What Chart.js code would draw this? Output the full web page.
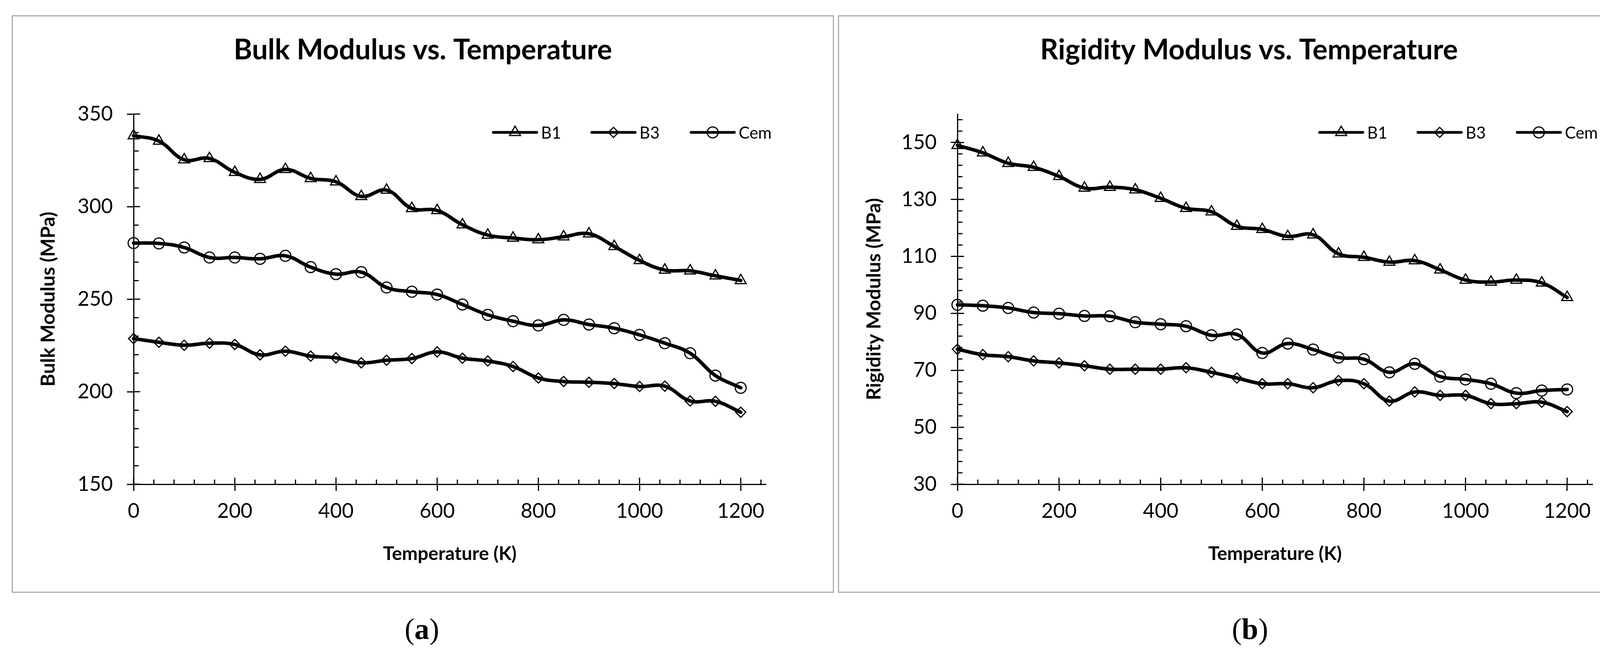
<!DOCTYPE html>
<html>
<head>
<meta charset="utf-8">
<script src="https://cdn.jsdelivr.net/npm/chart.js@4.4.1/dist/chart.umd.min.js"></script>
<style>
html,body{margin:0;padding:0;background:#fff;}
body{width:4273px;height:1667px;position:relative;overflow:hidden;}
.panel{position:absolute;top:39px;width:2105px;height:1479px;border:3px solid #b0acac;box-sizing:border-box;background:#fff;}
.panel canvas{position:absolute;left:0;top:0;}
.cap{position:absolute;top:1565px;font-family:"Liberation Serif","Times New Roman",serif;font-size:76px;line-height:90px;transform:translateX(-50%);color:#000;white-space:nowrap;}
.cap b{font-weight:bold;}
</style>
</head>
<body>
<div class="panel" style="left:30px"><canvas id="c1" width="2099" height="1473"></canvas></div>
<div class="panel" style="left:2145px"><canvas id="c2" width="2099" height="1473"></canvas></div>
<div class="cap" style="left:1080px">(<b>a</b>)</div>
<div class="cap" style="left:3200px">(<b>b</b>)</div>
<script>
// ---------------- data ----------------
const temperatures = [0,50,100,150,200,250,300,350,400,450,500,550,600,650,700,750,800,850,900,950,1000,1050,1100,1150,1200];
const seriesNames = ['B1','B3','Cem'];

const bulkB1  = [338.3,335.4,325.3,326.0,318.5,314.7,320.1,315.2,313.4,305.5,308.9,299.0,297.9,290.2,284.6,283.0,282.1,283.7,285.3,278.5,270.9,265.7,265.3,262.6,260.1];
const bulkB3  = [228.7,226.7,225.1,226.2,225.5,219.9,221.9,219.2,218.3,215.6,217.0,217.9,221.5,218.1,216.6,213.6,207.4,205.5,205.1,204.4,202.8,203.0,195.0,194.8,188.9];
const bulkCem = [280.3,280.1,277.9,272.5,272.5,271.8,273.4,267.3,263.5,264.6,256.3,254.0,252.5,247.1,241.5,238.1,235.8,238.8,236.3,234.3,230.7,226.2,220.8,208.7,202.1];

const rigidB1  = [149.0,146.4,142.7,141.3,138.1,134.0,134.3,133.4,130.4,126.9,125.7,120.6,119.5,117.0,117.6,110.9,109.7,108.0,108.5,105.3,101.7,101.0,101.7,100.7,95.6];
const rigidB3  = [77.4,75.5,74.8,73.3,72.6,71.6,70.4,70.4,70.4,70.9,69.3,67.3,65.3,65.3,63.9,66.4,65.3,59.2,62.4,61.2,61.2,58.3,58.3,58.8,55.5];
const rigidCem = [93.0,92.7,91.9,90.3,89.9,89.1,89.0,86.9,86.2,85.5,82.3,82.6,76.1,79.4,77.3,74.5,73.9,69.3,72.3,67.8,66.8,65.3,62.0,62.9,63.3];

const tempTicks  = [0,200,400,600,800,1000,1200];
const bulkTicks  = [150,200,250,300,350];
const rigidTicks = [30,50,70,90,110,130,150];

// ---------------- styling ----------------
Chart.defaults.font.family = 'Lato, "Open Sans", "Noto Sans", sans-serif';
Chart.defaults.color = '#000';

const markerStyles = ['triangle','rectRot','circle'];
const markerRadii  = [16,13,14];
const legendX = [1230,1482,1736];
const legendY = 297;

const minorTicksPlugin = {
  id: 'minorTicks',
  beforeDatasetsDraw(chart, args, o) {
    const {ctx, chartArea: a} = chart;
    const x = chart.scales.x, y = chart.scales.y;
    ctx.save();
    ctx.strokeStyle = '#000';
    ctx.lineWidth = 3;
    ctx.beginPath();
    const nx = Math.floor((x.max - x.min) / o.xStep + 1e-6);
    for (let k = 0; k <= nx; k++) {
      const v = x.min + k * o.xStep;
      const px = x.getPixelForValue(v);
      const len = o.xMajor.includes(v) ? 17 : 12;
      ctx.moveTo(px, a.bottom);
      ctx.lineTo(px, a.bottom - len);
    }
    const ny = Math.floor((y.max - y.min) / o.yStep + 1e-6);
    for (let k = 0; k <= ny; k++) {
      const v = y.min + k * o.yStep;
      const py = y.getPixelForValue(v);
      const len = o.yMajor.includes(v) ? 17 : 13;
      ctx.moveTo(a.left, py);
      ctx.lineTo(a.left + len, py);
    }
    ctx.stroke();
    ctx.restore();
  }
};

const headerPlugin = {
  id: 'header',
  afterDraw(chart, args, o) {
    const ctx = chart.ctx;
    ctx.save();
    ctx.fillStyle = '#000';
    ctx.font = 'bold 72px Lato, "Open Sans", sans-serif';
    ctx.textAlign = 'center';
    ctx.textBaseline = 'middle';
    ctx.fillText(o.text, chart.width / 2, 87);
    // legend
    chart.data.datasets.forEach((ds, i) => {
      const x0 = legendX[i];
      ctx.strokeStyle = '#000';
      ctx.lineWidth = 7;
      ctx.lineCap = 'round';
      ctx.beginPath();
      ctx.moveTo(x0, legendY);
      ctx.lineTo(x0 + 111, legendY);
      ctx.stroke();
      ctx.lineCap = 'butt';
      ctx.lineWidth = 3;
      ctx.fillStyle = 'rgba(0,0,0,0)';
      Chart.helpers.drawPoint(ctx, {pointStyle: ds.pointStyle, radius: ds.pointRadius, borderWidth: 3, rotation: 0}, x0 + 55.5, legendY);
      ctx.fillStyle = '#000';
      ctx.font = '42px Lato, "Open Sans", sans-serif';
      ctx.textAlign = 'left';
      ctx.textBaseline = 'middle';
      ctx.fillText(ds.label, x0 + 122, legendY + 2);
    });
    ctx.restore();
  }
};

function makeChart(id, title, yTitle, series, yTicks, yMin, yMax, yStep, areaLeft, areaRight, yTitlePad) {
  const canvas = document.getElementById(id);
  const W = canvas.width;
  const axisGrid = {display: true, drawOnChartArea: false, drawTicks: true, tickLength: 17, tickWidth: 3, tickColor: '#000'};
  const axisBorder = {display: true, color: '#000', width: 3};
  return new Chart(canvas, {
    type: 'line',
    data: {
      datasets: series.map((vals, i) => ({
        label: seriesNames[i],
        data: temperatures.map((t, j) => ({x: t, y: vals[j]})),
        borderColor: '#000',
        borderWidth: 9,
        tension: 0.4,
        borderCapStyle: 'round',
        borderJoinStyle: 'round',
        pointStyle: markerStyles[i],
        pointRadius: markerRadii[i],
        pointBorderWidth: 3,
        pointBorderColor: '#000',
        pointBackgroundColor: 'rgba(0,0,0,0)',
        clip: false
      }))
    },
    options: {
      responsive: false,
      animation: false,
      devicePixelRatio: 1,
      layout: {padding: {left: 0, top: 250, right: W - areaRight, bottom: 35}},
      plugins: {
        legend: {display: false},
        title: {display: false},
        tooltip: {enabled: false},
        header: {text: title},
        minorTicks: {xStep: 40, yStep: yStep, xMajor: tempTicks, yMajor: yTicks}
      },
      scales: {
        x: {
          type: 'linear', min: 0, max: 1250,
          afterBuildTicks: s => { s.ticks = tempTicks.map(v => ({value: v})); },
          afterFit: s => { s.height = 240; },
          ticks: {font: {size: 52}, color: '#000', padding: 21, maxRotation: 0, autoSkip: false, callback: v => String(v)},
          grid: axisGrid,
          border: axisBorder,
          title: {display: true, text: 'Temperature (K)', font: {size: 48, weight: 'bold'}, color: '#000', padding: {top: 0, bottom: 33}}
        },
        y: {
          type: 'linear', min: yMin, max: yMax,
          afterBuildTicks: s => { s.ticks = yTicks.map(v => ({value: v})); },
          afterFit: s => { s.width = areaLeft; },
          ticks: {font: {size: 52}, color: '#000', padding: 36, autoSkip: false, callback: v => String(v)},
          grid: axisGrid,
          border: axisBorder,
          title: {display: true, text: yTitle, font: {size: 50, weight: 'bold'}, color: '#000', padding: {top: yTitlePad - 2, bottom: 0}}
        }
      }
    },
    plugins: [minorTicksPlugin, headerPlugin]
  });
}

makeChart('c1', 'Bulk Modulus vs. Temperature', 'Bulk Modulus (MPa)', [bulkB1, bulkB3, bulkCem], bulkTicks, 150, 350, 10, 309, 1928, 63);
makeChart('c2', 'Rigidity Modulus vs. Temperature', 'Rigidity Modulus (MPa)', [rigidB1, rigidB3, rigidCem], rigidTicks, 30, 160, 4, 303, 1929, 62);
</script>
</body>
</html>
